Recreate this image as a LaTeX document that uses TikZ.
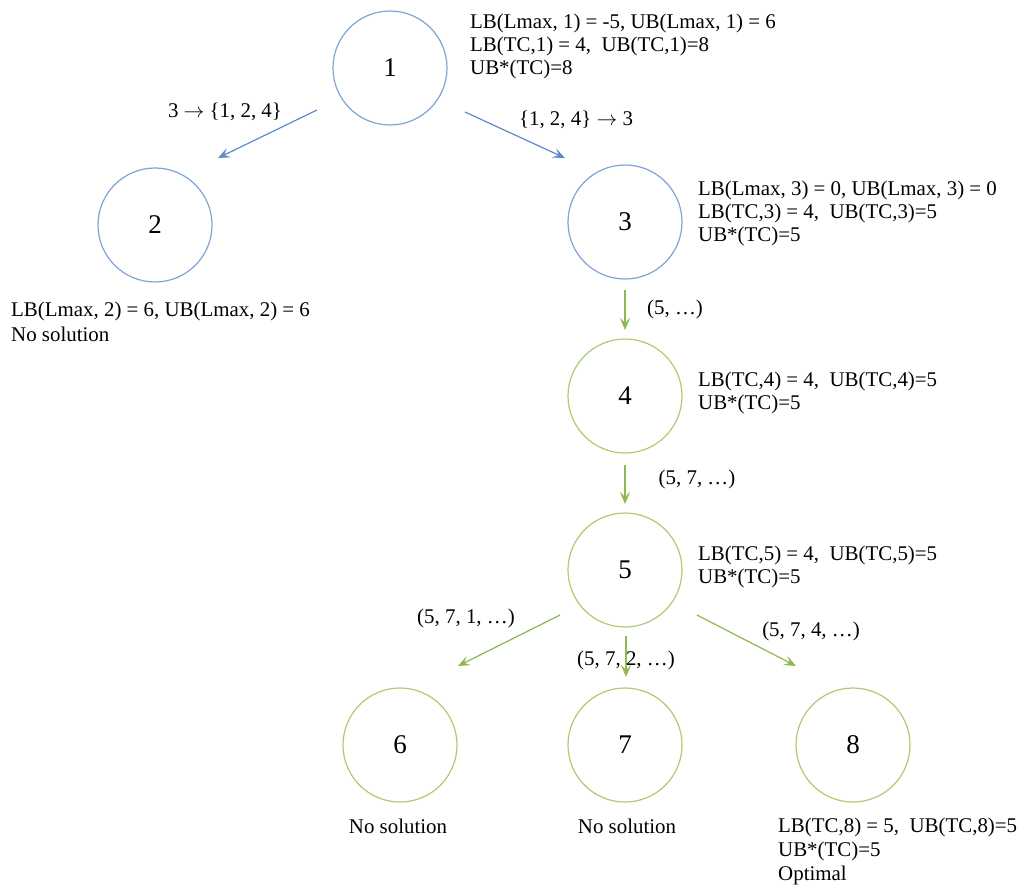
\documentclass[tikz,border=0pt]{standalone}
\usepackage{fontspec}
\setmainfont{Liberation Serif}
\usetikzlibrary{arrows.meta}
\definecolor{bcirc}{HTML}{7EA4D6}
\definecolor{barr}{HTML}{5F8CC8}
\definecolor{gcirc}{HTML}{AACC72}
\definecolor{garr}{HTML}{90B852}
\begin{document}
\begin{tikzpicture}[x=1pt,y=-1pt,
  bnode/.style={circle,draw=bcirc,line width=1.2pt,minimum size=114pt,inner sep=0pt,font=\fontsize{27}{30}\selectfont},
  gnode/.style={circle,draw=gcirc,line width=1.2pt,minimum size=114pt,inner sep=0pt,font=\fontsize{27}{30}\selectfont},
  info/.style={anchor=north west,inner sep=0pt,align=left,font=\fontsize{20.9}{23}\selectfont},
  lbl/.style={inner sep=0pt,font=\fontsize{20.9}{23}\selectfont},
  tip/.style={-{Stealth[length=12pt,width=10pt,inset=5pt]}},
  barrow/.style={tip,draw=barr,fill=barr,line width=1.2pt},
  garrow/.style={tip,draw=garr,fill=garr,line width=1.2pt}]
\useasboundingbox (0,0) rectangle (1033,891);
\node[bnode] (n1) at (390,68) {1};
\node[bnode] (n2) at (155,225) {2};
\node[bnode] (n3) at (625,222) {3};
\node[gnode] (n4) at (625,396) {4};
\node[gnode] (n5) at (625,570) {5};
\node[gnode] (n6) at (400,745) {6};
\node[gnode] (n7) at (625,745) {7};
\node[gnode] (n8) at (853,745) {8};
% arrow endpoints
\coordinate (a12s) at (317,110); \coordinate (a12e) at (218,158);
\coordinate (a13s) at (465,112); \coordinate (a13e) at (565,158);
\coordinate (a34s) at (625,290); \coordinate (a34e) at (625,330);
\coordinate (a45s) at (625,465); \coordinate (a45e) at (625,504);
\coordinate (a56s) at (560,615); \coordinate (a56e) at (458,666);
\coordinate (a57s) at (626,636); \coordinate (a57e) at (626,677);
\coordinate (a58s) at (697,615); \coordinate (a58e) at (796,666);
\draw[barrow] (a12s) -- (a12e);
\draw[barrow] (a13s) -- (a13e);
\draw[garrow] (a34s) -- (a34e);
\draw[garrow] (a45s) -- (a45e);
\draw[garrow] (a56s) -- (a56e);
\draw[garrow] (a57s) -- (a57e);
\draw[garrow] (a58s) -- (a58e);
% edge labels
\node[lbl] (l12) at (225,112) {3 $\rightarrow$ \{1, 2, 4\}};
\node[lbl] (l13) at (576,120) {\{1, 2, 4\} $\rightarrow$ 3};
\node[lbl] (l34) at (675,309) {(5, …)};
\node[lbl] (l45) at (697,479) {(5, 7, …)};
\node[lbl] (l56) at (466,618) {(5, 7, 1, …)};
\node[lbl] (l57) at (626,660) {(5, 7, 2, …)};
\node[lbl] (l58) at (811,631) {(5, 7, 4, …)};
% info blocks
\node[info] (i1) at (470,14) {LB(Lmax, 1) = -5, UB(Lmax, 1) = 6\\LB(TC,1) = 4,\ \ UB(TC,1)=8\\UB*(TC)=8};
\node[info] (i3) at (698,181) {LB(Lmax, 3) = 0, UB(Lmax, 3) = 0\\LB(TC,3) = 4,\ \ UB(TC,3)=5\\UB*(TC)=5};
\node[info,font=\fontsize{20.9}{25}\selectfont] (i2) at (11,302) {LB(Lmax, 2) = 6, UB(Lmax, 2) = 6\\No solution};
\node[info] (i4) at (698,372) {LB(TC,4) = 4,\ \ UB(TC,4)=5\\UB*(TC)=5};
\node[info] (i5) at (698,546) {LB(TC,5) = 4,\ \ UB(TC,5)=5\\UB*(TC)=5};
\node[lbl] (i6) at (398,826) {No solution};
\node[lbl] (i7) at (627,826) {No solution};
\node[info,font=\fontsize{20.9}{24}\selectfont] (i8) at (778,818) {LB(TC,8) = 5,\ \ UB(TC,8)=5\\UB*(TC)=5\\Optimal};
\end{tikzpicture}
\end{document}
